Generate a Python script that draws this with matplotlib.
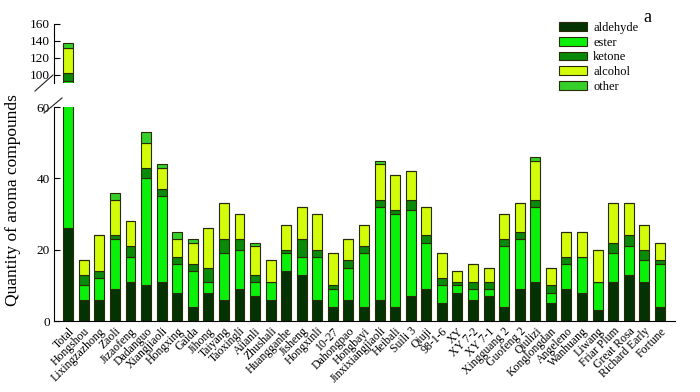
import numpy as np
import matplotlib
matplotlib.use('Agg')
import matplotlib.pyplot as plt
from matplotlib.lines import Line2D

plt.rcParams['font.family'] = ['Liberation Serif', 'DejaVu Serif']

cultivars = ['Total', 'Hongshou', 'Lixingzazhong', 'Zaoli', 'Jizaofeng', 'Dadanguo', 'Xiangjiaoli',
             'Hongxing', 'Gaida', 'Jihong', 'Taiyang', 'Taoxingli', 'Aiianli', 'Zhushali', 'Huangganhe',
             'Jisheng', 'Hongxinli', '10-27', 'Dahongpao', 'Hongbayi', 'Jinxixiangjiaoli', 'Heibali',
             'Suili 3', 'Qiuji', '98-1-6', 'XY', 'XY 7-2', 'XY 7-1', 'Xingguang 2', 'Guofeng 2', 'Qiulizi',
             'Konglongdan', 'Angeleno', 'Wanhuang', 'Liwang', 'Friar Plum', 'Great Rosa', 'Richard Early',
             'Fortune']

aldehyde = [26, 6, 6, 9, 11, 10, 11, 8, 4, 8, 6, 9, 7, 6, 14, 13, 6, 4, 6, 4, 6, 4, 7, 9, 5, 8, 6, 7,
            4, 9, 11, 5, 9, 8, 3, 11, 13, 11, 4]
ester = [66, 4, 6, 14, 7, 30, 24, 8, 10, 3, 13, 11, 4, 5, 5, 5, 12, 5, 9, 15, 26, 26, 24, 13, 5, 2, 3, 2,
         17, 14, 21, 3, 7, 10, 8, 8, 8, 6, 12]
ketone = [10, 3, 2, 1, 3, 3, 2, 2, 2, 4, 4, 3, 2, 0, 1, 5, 2, 1, 2, 2, 2, 1, 3, 2, 2, 1, 2, 2, 2, 2, 2, 2,
          2, 0, 0, 3, 3, 3, 1]
alcohol = [30, 4, 10, 10, 7, 7, 6, 5, 6, 11, 10, 7, 8, 6, 7, 9, 10, 9, 6, 6, 10, 10, 8, 8, 7, 3, 5, 4,
           7, 8, 11, 5, 7, 7, 9, 11, 9, 7, 5]
other = [6, 0, 0, 2, 0, 3, 1, 2, 1, 0, 0, 0, 1, 0, 0, 0, 0, 0, 0, 0, 1, 0, 0, 0, 0, 0, 0, 0, 0, 0, 1, 0,
         0, 0, 0, 0, 0, 0, 0]

series = [('aldehyde', aldehyde, '#033303'), ('ester', ester, '#0bf00b'), ('ketone', ketone, '#098a09'),
          ('alcohol', alcohol, '#d2fc0a'), ('other', other, '#36d02a')]

fig = plt.figure(figsize=(7, 3.92), dpi=100)
ax_top = fig.add_axes([0.077, 0.788, 0.887, 0.151])
ax_bot = fig.add_axes([0.077, 0.181, 0.887, 0.546])

x = np.arange(len(cultivars))
for ax in (ax_top, ax_bot):
    bottom = np.zeros(len(cultivars))
    for name, vals, color in series:
        vals = np.array(vals, dtype=float)
        ax.bar(x, vals, bottom=bottom, width=0.64, color=color, edgecolor='#2a2a08',
               linewidth=0.8, label=name)
        bottom += vals
    ax.set_xlim(-0.92, 38.96)
    ax.spines['top'].set_visible(False)
    ax.spines['right'].set_visible(False)
    ax.tick_params(axis='y', direction='in', length=4, labelsize=9.5, pad=3)

ax_top.set_ylim(90, 160)
ax_top.set_yticks([100, 120, 140, 160])
ax_top.spines['bottom'].set_visible(False)
ax_top.set_xticks([])

ax_bot.set_ylim(0, 60)
ax_bot.set_yticks([0, 20, 40, 60])
ax_bot.set_xticks(x)
ax_bot.set_xticklabels(cultivars, rotation=45, ha='right', rotation_mode='anchor', fontsize=8.5)
ax_bot.tick_params(axis='x', length=0, pad=3)

# break marks on the left spine
for (x0, y0, x1, y1) in [(35, 91, 53, 75), (44, 113, 62, 98)]:
    fig.add_artist(Line2D([x0 / 700, x1 / 700], [1 - y0 / 392, 1 - y1 / 392],
                          transform=fig.transFigure, color='#222222', linewidth=0.8))

fig.text(0.018, 0.49, 'Quantity of aroma compounds', rotation=90, ha='center', va='center', fontsize=12.5)

handles, labels = ax_bot.get_legend_handles_labels()
fig.legend(handles, labels, loc='upper left', bbox_to_anchor=(0.783, 0.973), frameon=False,
           fontsize=9, handlelength=2.2, handleheight=0.7, labelspacing=0.22, handletextpad=0.5)
fig.text(0.925, 0.955, 'a', fontsize=13, ha='center', va='center')

fig.savefig('out.png', dpi=100)
